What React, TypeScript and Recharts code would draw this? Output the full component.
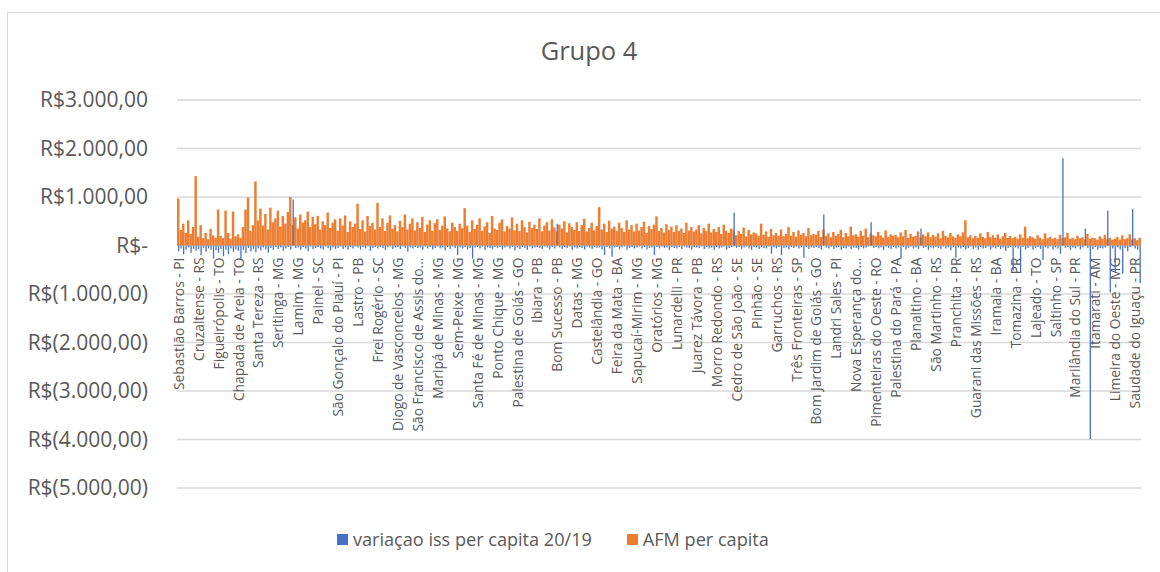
import { BarChart, Bar, XAxis, YAxis, CartesianGrid } from 'recharts';

// one label every LABEL_STEP municipalities, as Excel does on a dense axis
const municipios = [
  'Sebastião Barros - PI', 'Cruzaltense - RS', 'Figueirópolis - TO', 'Chapada de Areia - TO',
  'Santa Tereza - RS', 'Seritinga - MG', 'Lamim - MG', 'Painel - SC', 'São Gonçalo do Piauí - PI',
  'Lastro - PB', 'Frei Rogério - SC', 'Diogo de Vasconcelos - MG', 'São Francisco de Assis do...',
  'Maripá de Minas - MG', 'Sem-Peixe - MG', 'Santa Fé de Minas - MG', 'Ponto Chique - MG',
  'Palestina de Goiás - GO', 'Ibiara - PB', 'Bom Sucesso - PB', 'Datas - MG', 'Castelândia - GO',
  'Feira da Mata - BA', 'Sapucaí-Mirim - MG', 'Oratórios - MG', 'Lunardelli - PR', 'Juarez Távora - PB',
  'Morro Redondo - RS', 'Cedro de São João - SE', 'Pinhão - SE', 'Garruchos - RS', 'Três Fronteiras - SP',
  'Bom Jardim de Goiás - GO', 'Landri Sales - PI', 'Nova Esperança do...', 'Pimenteiras do Oeste - RO',
  'Palestina do Pará - PA', 'Planaltino - BA', 'São Martinho - RS', 'Pranchita - PR',
  'Guarani das Missões - RS', 'Iramaia - BA', 'Tomazina - PR', 'Lajeado - TO', 'Saltinho - SP',
  'Marilândia do Sul - PR', 'Itamarati - AM', 'Limeira do Oeste - MG', 'Saudade do Iguaçu - PR',
];
const LABEL_STEP = 8;

const yTicks = [3000, 2000, 1000, 0, -1000, -2000, -3000, -4000, -5000];
const yTickLabels = [
  'R$3.000,00', 'R$2.000,00', 'R$1.000,00', 'R$-', 'R$(1.000,00)',
  'R$(2.000,00)', 'R$(3.000,00)', 'R$(4.000,00)', 'R$(5.000,00)',
];

// AFM per capita, 8 values per labelled group
const afmPerCapita = [
  970, 320, 450, 260, 520, 240, 380, 1430,
  180, 420, 150, 260, 130, 340, 210, 160,
  740, 200, 150, 720, 260, 140, 700, 190,
  230, 160, 380, 740, 990, 300, 420, 1320,
  520, 760, 410, 650, 330, 780, 480, 560,
  720, 390, 610, 450, 690, 1000, 420, 580,
  350, 640, 470, 520, 700, 380, 590, 440,
  610, 330, 500, 420, 680, 360, 470, 540,
  300, 560, 410, 620, 280, 500, 380, 450,
  860, 340, 520, 290, 610, 400, 470, 330,
  880, 380, 560, 300, 470, 620, 350, 420,
  290, 510, 380, 640, 330, 450, 560, 310,
  480, 360, 590, 280, 430, 520, 300, 460,
  540, 320, 410, 600, 350, 290, 470, 380,
  300, 450, 360, 770, 410, 280, 520, 340,
  430, 560, 300, 390, 480, 260, 610, 350,
  320, 470, 540, 290, 400, 350, 580, 310,
  450, 300, 520, 380, 270, 490, 360, 430,
  340, 560, 290, 410, 480, 310, 540, 370,
  290, 430, 350, 500, 270, 460, 380, 320,
  480, 300, 420, 550, 290, 360, 470, 310,
  400, 790, 330, 450, 280, 510, 350, 390,
  300, 470, 360, 280, 520, 330, 420, 290,
  450, 310, 380, 490, 260, 400, 340, 430,
  600, 300, 360, 270, 440, 320, 390, 280,
  420, 300, 350, 260, 470, 310, 380, 290,
  330, 420, 250, 360, 300, 450, 270, 340,
  280, 380, 240, 430, 300, 260, 350, 310,
  210, 300, 240, 370, 190, 320, 230, 270,
  250, 200, 450, 220, 290, 180, 340, 210,
  260, 200, 330, 190, 240, 380, 200, 280,
  180, 310, 220, 260, 190, 360, 210, 240,
  220, 300, 180, 330, 200, 250, 170, 280,
  200, 240, 320, 170, 260, 190, 390, 210,
  230, 180, 300, 200, 350, 170, 250, 210,
  190, 280, 210, 160, 310, 180, 230, 200,
  220, 170, 270, 190, 320, 160, 240, 180,
  200, 290, 160, 230, 190, 270, 170, 220,
  180, 250, 150, 300, 200, 170, 260, 190,
  160, 230, 190, 270, 520, 170, 210, 150,
  200, 160, 250, 180, 150, 280, 170, 210,
  160, 230, 140, 190, 260, 160, 200, 150,
  180, 140, 230, 160, 390, 150, 190, 170,
  140, 210, 160, 130, 250, 150, 180, 140,
  160, 130, 220, 150, 170, 260, 140, 160,
  130, 200, 150, 170, 120, 240, 140, 160,
  150, 120, 190, 140, 220, 130, 160, 120,
  140, 180, 120, 210, 130, 150, 230, 120,
  150, 110, 160,
];

// variação do ISS per capita 2020/2019
const variacaoIss = [
  -120, -60, -180, -90, -40, -150, -70, -110,
  -80, -200, -50, -130, -60, -90, -270, -100,
  -150, -70, -220, -90, -180, -60, -130, -80,
  -110, -300, -90, -160, -50, -120, -70, -140,
  -60, -100, -40, -80, -150, -50, -90, -30,
  -70, -40, -110, -60, -30, -80, 950, -50,
  -40, -90, -30, -60, -120, -20, -70, -50,
  -30, -60, -80, -20, -50, -100, -40, -70,
  -50, -20, -70, -40, -90, -30, -60, -20,
  -40, -80, -30, -60, -20, -110, -50, -30,
  -60, -30, -50, -90, -40, -20, -70, -40,
  -30, -70, -20, -50, -130, -40, -60, -30,
  -50, -40, -90, -20, -60, -30, -80, -50,
  -20, -60, -40, -100, -30, -70, -20, -50,
  -200, -40, -60, -30, -80, -50, -270, -40,
  -30, -60, -20, -90, -40, -50, -70, -30,
  -50, -30, -80, -40, -20, -60, -30, -100,
  -40, -70, -30, -50, -90, -20, -60, -40,
  -30, -50, -70, -20, -40, -80, -30, -60,
  450, -40, -70, -30, -50, -20, -90, -40,
  -60, -30, -50, -80, -20, -40, -70, -30,
  -50, -40, -80, -200, -30, -60, -230, -40,
  -30, -70, -40, -20, -90, -50, -30, -60,
  -40, -20, -60, -30, -80, -50, -40, -200,
  -30, -60, -20, -50, -40, -90, -30, -50,
  -60, -30, -70, -20, -40, -50, -80, -30,
  -40, -50, -20, -70, -30, -60, -40, -90,
  -30, -60, -40, -20, -80, -50, -30, 680,
  -50, -30, -70, -40, -20, -60, -90, -30,
  -40, -70, -30, -50, -60, -20, -170, -40,
  -60, -30, -200, -50, -40, -80, -30, -50,
  -20, -60, -40, -250, -30, -70, -40, -50,
  -30, -50, -80, 640, -40, -60, -20, -70,
  -40, -30, -90, -50, -60, -20, -70, -40,
  -50, -80, -30, -60, -40, -20, 480, -50,
  -30, -60, -40, -90, -20, -50, -70, -30,
  -60, -40, -270, -30, -80, -50, -20, -60,
  -40, -70, 350, -50, -30, -90, -40, -60,
  -30, -50, -70, -20, -60, -40, -100, -30,
  -250, -40, -60, -30, -80, -50, -20, -70,
  -40, -90, -30, -60, -50, -20, -80, -40,
  -60, -30, -70, -40, -110, -50, -30, -520,
  -40, -60, -560, -30, -80, -50, -20, -90,
  -50, -30, -70, -300, -40, -60, -20, -80,
  -40, -60, -170, 1800, -50, -30, -90, -40,
  -60, -20, -80, -40, 350, -50, -3990, -70,
  -30, -90, -50, -60, -40, 720, -970, -60,
  -560, -40, -80, -580, -50, -120, -30, 760,
  -60, -90, -780,
];

const series = [
  { key: 'iss', name: 'variaçao iss per capita 20/19', color: '#4472C4' },
  { key: 'afm', name: 'AFM per capita', color: '#ED7D31' },
];

const data = afmPerCapita.map((afm, i) => ({ idx: i, afm, iss: variacaoIss[i] }));

const W = 1160;
const H = 572;
const PLOT_LEFT = 177;
const PLOT_RIGHT = 1141;
const PLOT_TOP = 100;
const PLOT_BOTTOM = 488;
const ZERO_Y = PLOT_TOP + ((PLOT_BOTTOM - PLOT_TOP) * 3000) / 8000;
const BAND = (PLOT_RIGHT - PLOT_LEFT) / data.length;
// orange fills the whole slot, the thin blue bar sits over its middle
const AFM_W = BAND - 0.04;
const ISS_W = 1.3;
const FONT = '"Open Sans", sans-serif';
const TEXT = '#595959';

function CategoryTick({ x, payload }: any) {
  const i = Number(payload.value);
  const label = i % LABEL_STEP === 0 ? municipios[i / LABEL_STEP] : '';
  const y = ZERO_Y + 12;
  return (
    <text
      x={x}
      y={y}
      transform={`rotate(-90 ${x} ${y})`}
      textAnchor="end"
      dominantBaseline="central"
      fill={TEXT}
      fontSize={13.8}
      fontFamily={FONT}
    >
      {label}
    </text>
  );
}

const layer: React.CSSProperties = { position: 'absolute', left: 0, top: 0 };

export default function App() {
  return (
    <div
      style={{
        position: 'absolute',
        left: 0,
        top: 0,
        width: W,
        height: H,
        overflow: 'hidden',
        background: '#fff',
        fontFamily: FONT,
      }}
    >
      <div
        style={{
          position: 'absolute',
          left: 7,
          top: 12,
          width: 1300,
          height: 700,
          border: '1.5px solid #d9d9d9',
        }}
      />
      <div
        style={{
          position: 'absolute',
          left: 389,
          top: 33,
          width: 400,
          textAlign: 'center',
          fontSize: 25.5,
          color: TEXT,
        }}
      >
        Grupo 4
      </div>

      {/* AFM bars, axes and grid */}
      <div style={layer}>
        <BarChart
          width={W}
          height={H}
          data={data}
          barCategoryGap={0}
          margin={{ top: PLOT_TOP, right: W - PLOT_RIGHT, bottom: H - PLOT_BOTTOM - 1, left: 0 }}
        >
          <CartesianGrid vertical={false} stroke="#d9d9d9" strokeWidth={1.5} />
          <XAxis
            dataKey="idx"
            interval={LABEL_STEP - 1}
            height={1}
            axisLine={false}
            tickLine={false}
            tick={CategoryTick}
          />
          <YAxis
            domain={[-5000, 3000]}
            ticks={yTicks}
            interval={0}
            width={PLOT_LEFT}
            axisLine={false}
            tickLine={false}
            tickSize={0}
            tickMargin={29}
            tickFormatter={(v: number) => yTickLabels[yTicks.indexOf(v)]}
            tick={{ fill: TEXT, fontSize: 21, fontFamily: FONT }}
          />
          <Bar dataKey="afm" fill="#ED7D31" barSize={AFM_W} isAnimationActive={false} />
        </BarChart>
      </div>

      {/* ISS bars on the same scales, laid over */}
      <div style={{ ...layer, pointerEvents: 'none' }}>
        <BarChart
          width={W}
          height={H}
          data={data}
          barCategoryGap={0}
          margin={{ top: PLOT_TOP, right: W - PLOT_RIGHT, bottom: H - PLOT_BOTTOM, left: PLOT_LEFT }}
        >
          <XAxis dataKey="idx" hide />
          <YAxis domain={[-5000, 3000]} ticks={yTicks} hide />
          <Bar dataKey="iss" fill="#4472C4" barSize={ISS_W} isAnimationActive={false} />
        </BarChart>
      </div>

      <div
        style={{
          position: 'absolute',
          left: 337,
          top: 527,
          display: 'flex',
          alignItems: 'center',
          gap: 35,
          fontSize: 18.1,
          color: TEXT,
        }}
      >
        {series.map((s) => (
          <div key={s.key} style={{ display: 'flex', alignItems: 'center', gap: 5 }}>
            <span style={{ width: 11, height: 11, background: s.color, display: 'inline-block' }} />
            <span>{s.name}</span>
          </div>
        ))}
      </div>
    </div>
  );
}
